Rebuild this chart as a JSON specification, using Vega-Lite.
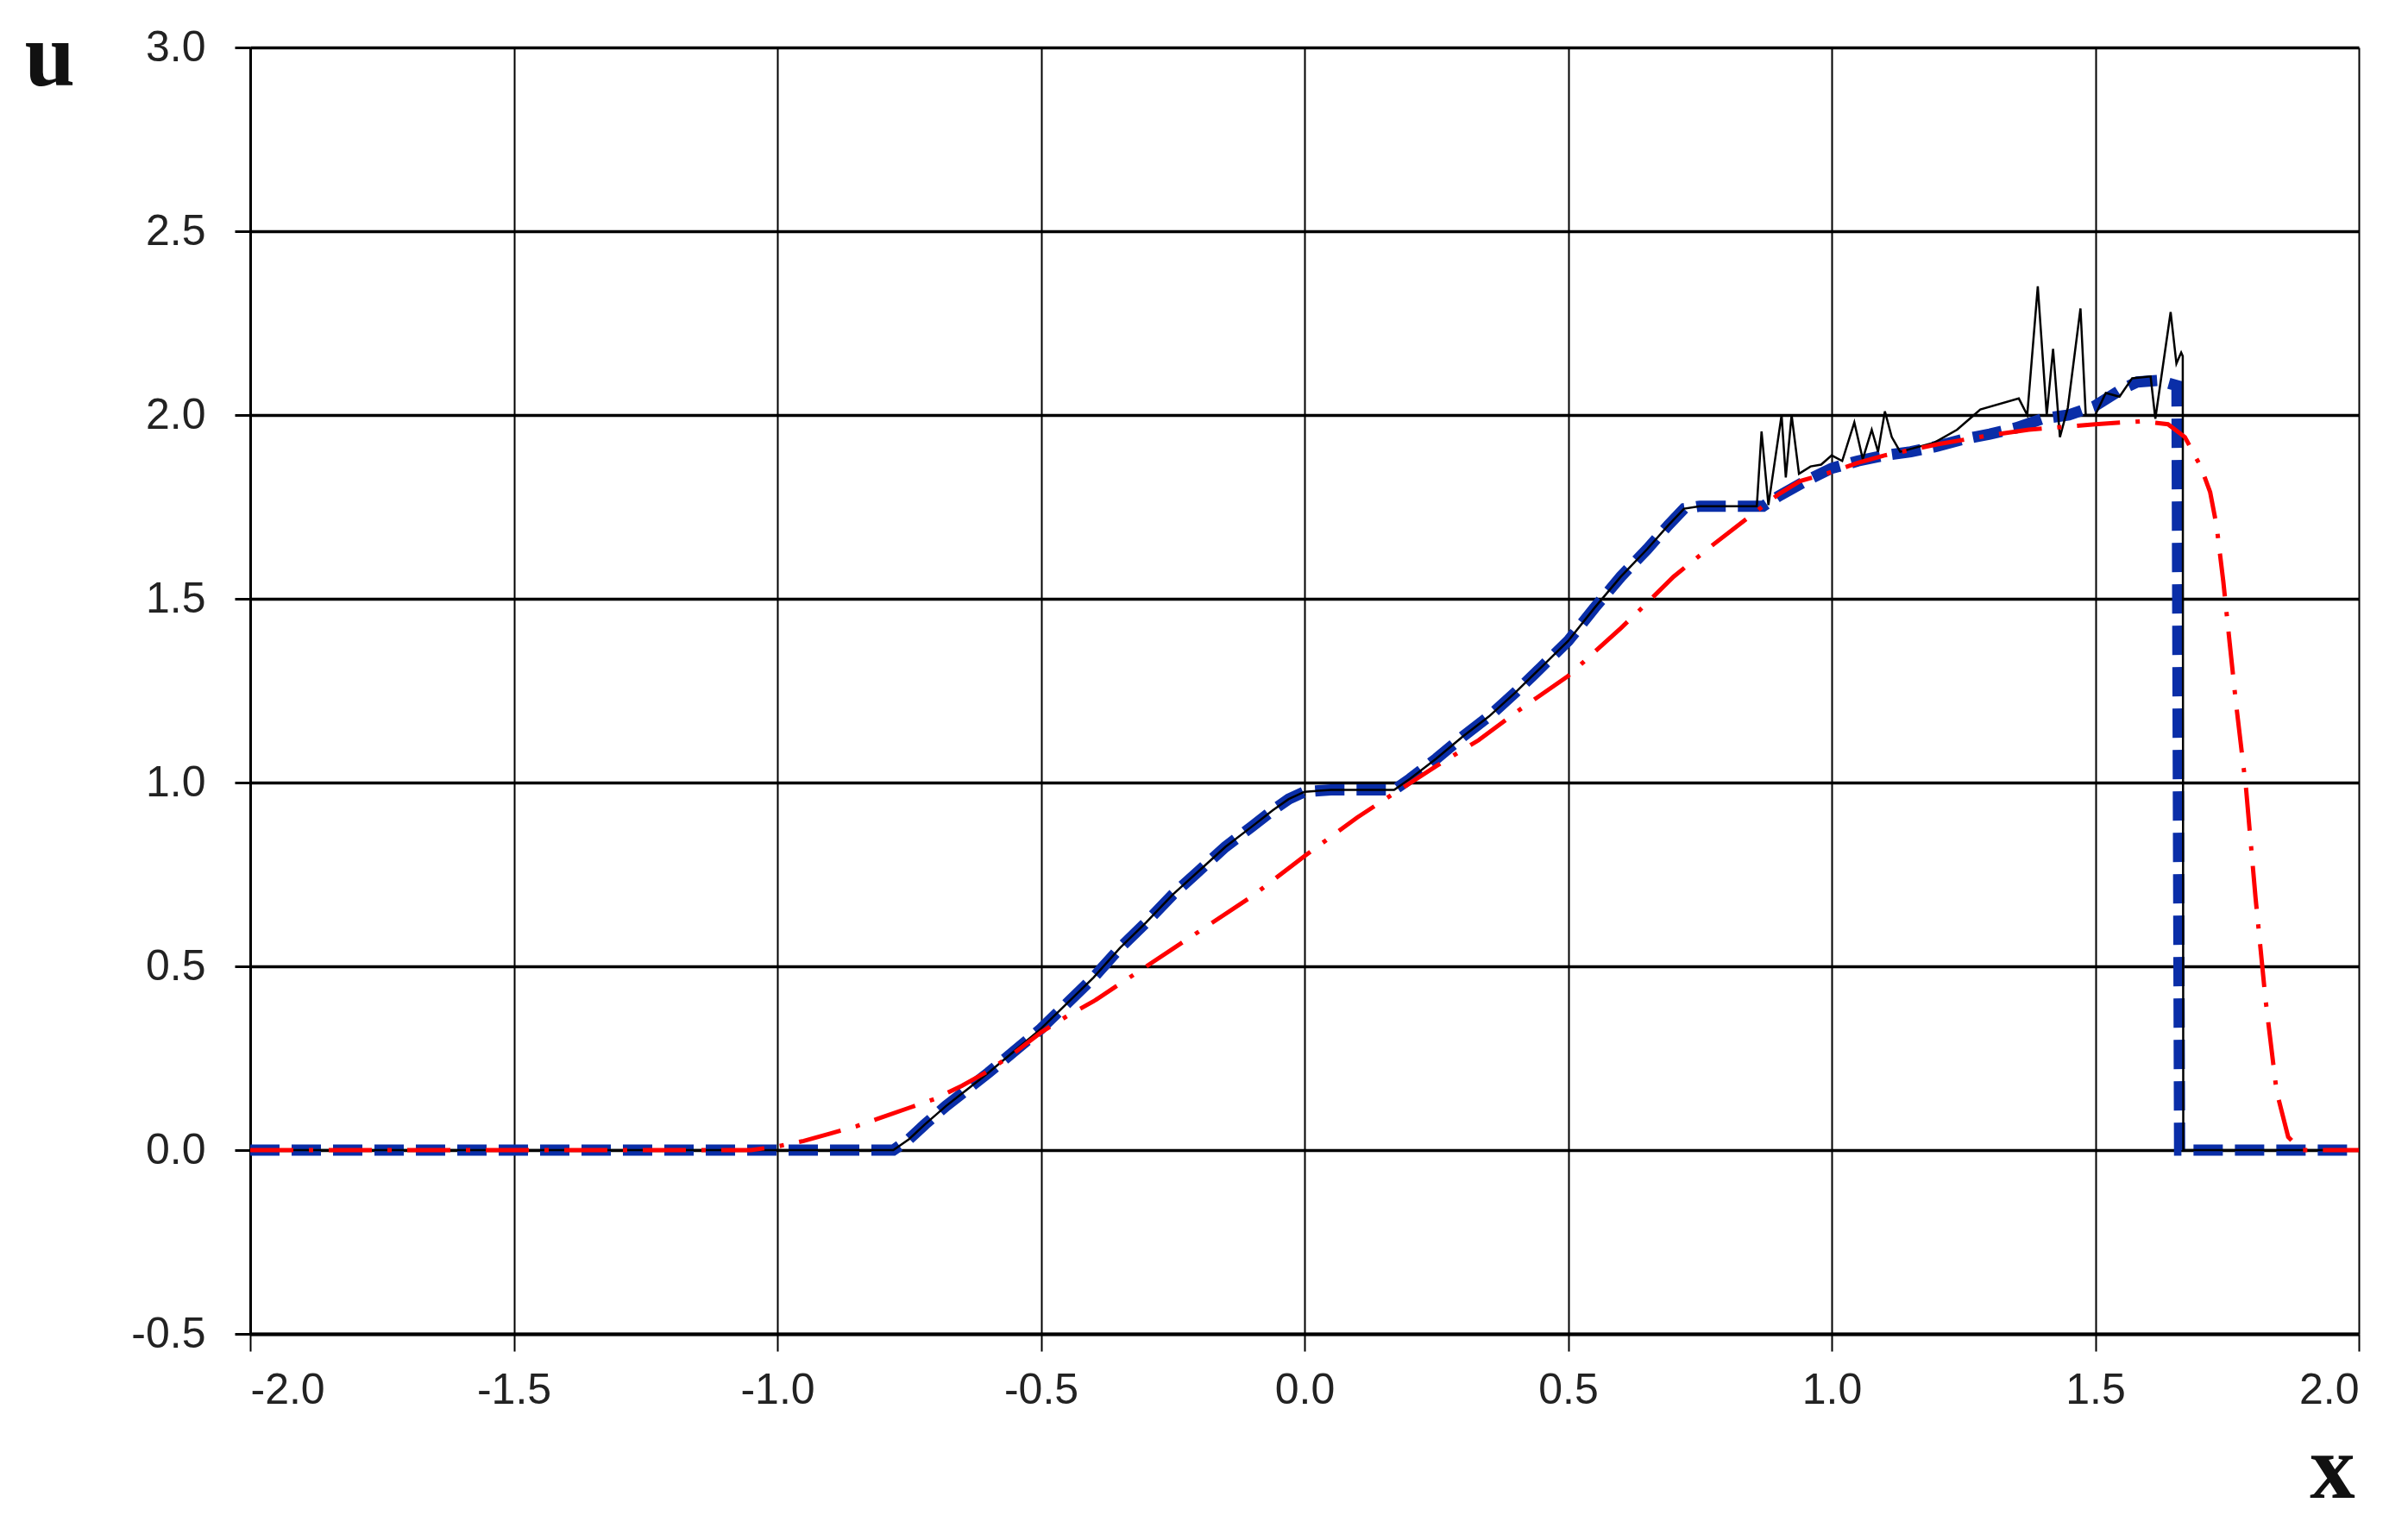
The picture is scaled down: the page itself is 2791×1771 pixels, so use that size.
{
  "$schema": "https://vega.github.io/schema/vega-lite/v6.json",
  "autosize": {"type": "none"},
  "width": 2444,
  "height": 1491,
  "padding": {"left": 290, "top": 55, "right": 57, "bottom": 225},
  "background": "white",
  "config": {
    "view": {"stroke": null},
    "locale": {"number": {"decimal": ".", "thousands": ",", "grouping": [3], "currency": ["$", ""], "minus": "-"}}
  },
  "datasets": {
    "blue": [
      {"x": -2.0, "u": 0}, {"x": -0.78, "u": 0}, {"x": -0.75, "u": 0.03}, {"x": -0.72, "u": 0.07},
      {"x": -0.68, "u": 0.12}, {"x": -0.64, "u": 0.165}, {"x": -0.6, "u": 0.21}, {"x": -0.55, "u": 0.27},
      {"x": -0.5, "u": 0.33}, {"x": -0.45, "u": 0.4}, {"x": -0.4, "u": 0.47}, {"x": -0.35, "u": 0.55},
      {"x": -0.3, "u": 0.62}, {"x": -0.25, "u": 0.695}, {"x": -0.2, "u": 0.76}, {"x": -0.15, "u": 0.825},
      {"x": -0.1, "u": 0.88}, {"x": -0.06, "u": 0.925}, {"x": -0.03, "u": 0.955}, {"x": 0.0, "u": 0.975},
      {"x": 0.05, "u": 0.98}, {"x": 0.17, "u": 0.98}, {"x": 0.2, "u": 1.01}, {"x": 0.25, "u": 1.065},
      {"x": 0.3, "u": 1.125}, {"x": 0.35, "u": 1.18}, {"x": 0.4, "u": 1.245}, {"x": 0.45, "u": 1.315},
      {"x": 0.5, "u": 1.385}, {"x": 0.55, "u": 1.475}, {"x": 0.6, "u": 1.56}, {"x": 0.65, "u": 1.635},
      {"x": 0.69, "u": 1.7}, {"x": 0.72, "u": 1.745}, {"x": 0.75, "u": 1.752}, {"x": 0.87, "u": 1.752},
      {"x": 0.9, "u": 1.78}, {"x": 0.95, "u": 1.82}, {"x": 1.0, "u": 1.855}, {"x": 1.05, "u": 1.875},
      {"x": 1.1, "u": 1.89}, {"x": 1.15, "u": 1.9}, {"x": 1.2, "u": 1.915}, {"x": 1.25, "u": 1.934},
      {"x": 1.3, "u": 1.948}, {"x": 1.35, "u": 1.965}, {"x": 1.4, "u": 1.99}, {"x": 1.45, "u": 2.0},
      {"x": 1.5, "u": 2.025}, {"x": 1.55, "u": 2.07}, {"x": 1.58, "u": 2.09}, {"x": 1.62, "u": 2.094},
      {"x": 1.655, "u": 2.08}, {"x": 1.66, "u": 0}, {"x": 2.0, "u": 0}
    ],
    "black": [
      {"x": -2.0, "u": 0}, {"x": -0.78, "u": 0}, {"x": -0.75, "u": 0.03}, {"x": -0.72, "u": 0.07},
      {"x": -0.68, "u": 0.12}, {"x": -0.64, "u": 0.165}, {"x": -0.6, "u": 0.21}, {"x": -0.55, "u": 0.27},
      {"x": -0.5, "u": 0.33}, {"x": -0.45, "u": 0.4}, {"x": -0.4, "u": 0.47}, {"x": -0.35, "u": 0.55},
      {"x": -0.3, "u": 0.62}, {"x": -0.25, "u": 0.695}, {"x": -0.2, "u": 0.76}, {"x": -0.15, "u": 0.825},
      {"x": -0.1, "u": 0.88}, {"x": -0.06, "u": 0.925}, {"x": -0.03, "u": 0.955}, {"x": 0.0, "u": 0.975},
      {"x": 0.05, "u": 0.98}, {"x": 0.17, "u": 0.98}, {"x": 0.2, "u": 1.01}, {"x": 0.25, "u": 1.065},
      {"x": 0.3, "u": 1.125}, {"x": 0.35, "u": 1.18}, {"x": 0.4, "u": 1.245}, {"x": 0.45, "u": 1.315},
      {"x": 0.5, "u": 1.385}, {"x": 0.55, "u": 1.475}, {"x": 0.6, "u": 1.56}, {"x": 0.65, "u": 1.635},
      {"x": 0.69, "u": 1.7}, {"x": 0.72, "u": 1.745}, {"x": 0.75, "u": 1.752}, {"x": 0.858, "u": 1.752},
      {"x": 0.867, "u": 1.955}, {"x": 0.88, "u": 1.755}, {"x": 0.905, "u": 2.0}, {"x": 0.913, "u": 1.83},
      {"x": 0.924, "u": 2.0}, {"x": 0.938, "u": 1.84}, {"x": 0.96, "u": 1.86}, {"x": 0.98, "u": 1.865},
      {"x": 1.0, "u": 1.89}, {"x": 1.02, "u": 1.875}, {"x": 1.043, "u": 1.98}, {"x": 1.059, "u": 1.88},
      {"x": 1.076, "u": 1.96}, {"x": 1.088, "u": 1.9}, {"x": 1.101, "u": 2.01}, {"x": 1.114, "u": 1.94},
      {"x": 1.13, "u": 1.9}, {"x": 1.195, "u": 1.925}, {"x": 1.238, "u": 1.96}, {"x": 1.282, "u": 2.015},
      {"x": 1.355, "u": 2.045}, {"x": 1.371, "u": 2.0}, {"x": 1.391, "u": 2.35}, {"x": 1.408, "u": 2.0},
      {"x": 1.42, "u": 2.18}, {"x": 1.433, "u": 1.94}, {"x": 1.448, "u": 2.02}, {"x": 1.472, "u": 2.29},
      {"x": 1.482, "u": 2.0}, {"x": 1.5, "u": 2.0}, {"x": 1.52, "u": 2.06}, {"x": 1.546, "u": 2.05},
      {"x": 1.57, "u": 2.1}, {"x": 1.605, "u": 2.105}, {"x": 1.614, "u": 1.99}, {"x": 1.643, "u": 2.28},
      {"x": 1.654, "u": 2.14}, {"x": 1.663, "u": 2.17}, {"x": 1.666, "u": 2.16}, {"x": 1.667, "u": 0},
      {"x": 2.0, "u": 0}
    ],
    "red": [
      {"x": -2.0, "u": 0}, {"x": -1.05, "u": 0}, {"x": -1.0, "u": 0.01}, {"x": -0.95, "u": 0.025},
      {"x": -0.9, "u": 0.045}, {"x": -0.85, "u": 0.065}, {"x": -0.8, "u": 0.09}, {"x": -0.75, "u": 0.115},
      {"x": -0.7, "u": 0.14}, {"x": -0.65, "u": 0.175}, {"x": -0.6, "u": 0.215}, {"x": -0.55, "u": 0.265},
      {"x": -0.5, "u": 0.32}, {"x": -0.45, "u": 0.365}, {"x": -0.4, "u": 0.405}, {"x": -0.3, "u": 0.5},
      {"x": -0.2, "u": 0.595}, {"x": -0.1, "u": 0.69}, {"x": 0.0, "u": 0.8}, {"x": 0.1, "u": 0.905},
      {"x": 0.18, "u": 0.98}, {"x": 0.25, "u": 1.045}, {"x": 0.33, "u": 1.115}, {"x": 0.4, "u": 1.19},
      {"x": 0.5, "u": 1.29}, {"x": 0.6, "u": 1.42}, {"x": 0.64, "u": 1.475}, {"x": 0.7, "u": 1.56},
      {"x": 0.775, "u": 1.647}, {"x": 0.85, "u": 1.73}, {"x": 0.9, "u": 1.785}, {"x": 0.94, "u": 1.82},
      {"x": 1.0, "u": 1.845}, {"x": 1.05, "u": 1.87}, {"x": 1.1, "u": 1.89}, {"x": 1.15, "u": 1.905},
      {"x": 1.2, "u": 1.92}, {"x": 1.3, "u": 1.945}, {"x": 1.374, "u": 1.96}, {"x": 1.5, "u": 1.975},
      {"x": 1.59, "u": 1.983}, {"x": 1.638, "u": 1.975}, {"x": 1.67, "u": 1.94}, {"x": 1.7, "u": 1.86},
      {"x": 1.718, "u": 1.79}, {"x": 1.73, "u": 1.7}, {"x": 1.743, "u": 1.546}, {"x": 1.755, "u": 1.38},
      {"x": 1.767, "u": 1.216}, {"x": 1.786, "u": 0.985}, {"x": 1.804, "u": 0.688}, {"x": 1.823, "u": 0.41},
      {"x": 1.844, "u": 0.16}, {"x": 1.866, "u": 0.036}, {"x": 1.89, "u": 0}, {"x": 2.0, "u": 0}
    ]
  },
  "encoding": {
    "x": {
      "field": "x", "type": "quantitative",
      "scale": {"domain": [-2, 2], "nice": false, "zero": false},
      "axis": {
        "values": [-2, -1.5, -1, -0.5, 0, 0.5, 1, 1.5, 2],
        "format": ".1f",
        "grid": true, "gridColor": "#000000", "gridWidth": 2, "gridOpacity": 1,
        "domain": true, "domainColor": "#000000", "domainWidth": 4,
        "ticks": true, "tickSize": 20, "tickColor": "#000000", "tickWidth": 2,
        "labelFont": "Liberation Sans", "labelFontSize": 50, "labelColor": "#222222", "labelPadding": 20,
        "title": "x", "titleFont": "Liberation Serif", "titleFontWeight": "bold", "titleFontSize": 105,
        "titleColor": "#111111", "titleX": 2413, "titleY": 189, "titleAlign": "center", "titleBaseline": "alphabetic"
      }
    },
    "y": {
      "field": "u", "type": "quantitative",
      "scale": {"domain": [-0.5, 3], "nice": false, "zero": false},
      "axis": {
        "values": [-0.5, 0, 0.5, 1, 1.5, 2, 2.5, 3],
        "format": ".1f",
        "grid": true, "gridColor": "#000000", "gridWidth": 3.5, "gridOpacity": 1,
        "domain": true, "domainColor": "#000000", "domainWidth": 3,
        "ticks": true, "tickSize": 18, "tickColor": "#000000", "tickWidth": 3,
        "labelFont": "Liberation Sans", "labelFontSize": 50, "labelColor": "#222222", "labelPadding": 34,
        "title": "u", "titleFont": "Liberation Serif", "titleFontWeight": "bold", "titleFontSize": 105,
        "titleColor": "#111111", "titleAngle": 0, "titleX": -262, "titleY": 43, "titleAlign": "left", "titleBaseline": "alphabetic"
      }
    }
  },
  "layer": [
    {
      "data": {"name": "blue"},
      "mark": {"type": "line", "color": "#0a2ea8", "strokeWidth": 13, "strokeDash": [34, 14], "strokeCap": "butt"}
    },
    {
      "data": {"name": "black"},
      "mark": {"type": "line", "color": "#000000", "strokeWidth": 2.5}
    },
    {
      "data": {"name": "red"},
      "mark": {"type": "line", "color": "#ff0000", "strokeWidth": 5, "strokeDash": [50, 18, 5, 18]}
    }
  ]
}
